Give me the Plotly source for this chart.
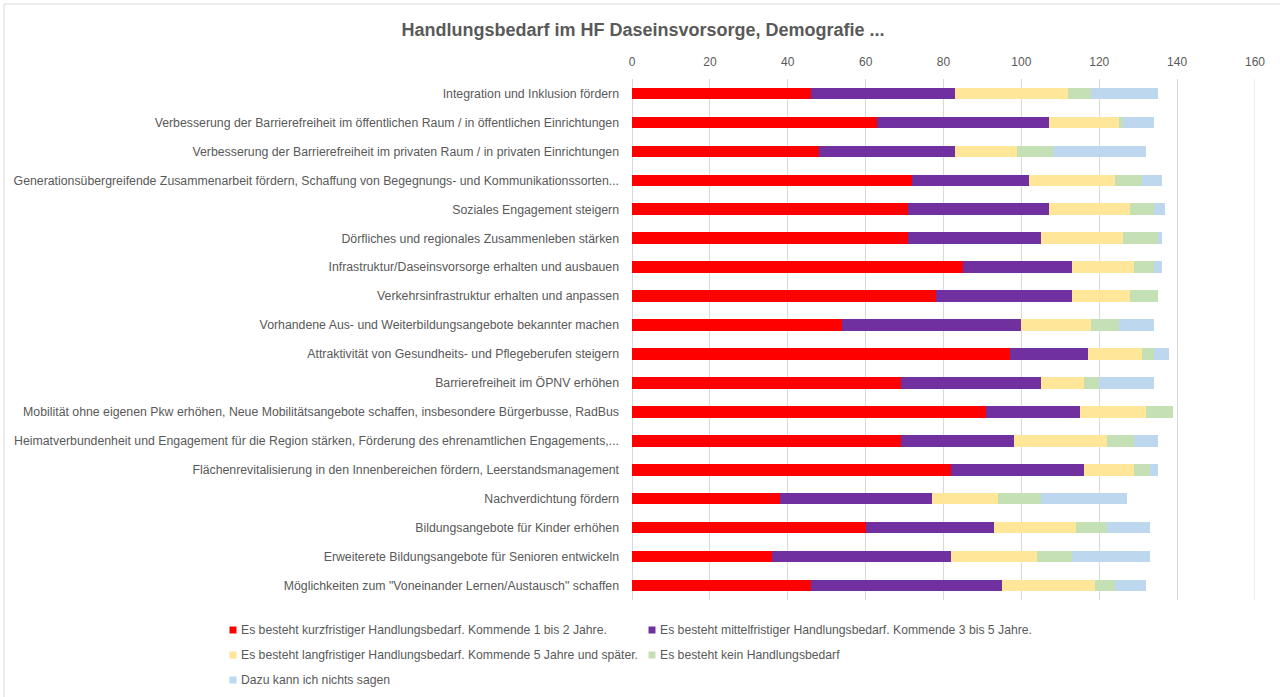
import plotly.graph_objects as go

# Handlungsfelder (top to bottom)
categories = [
    "Integration und Inklusion fördern",
    "Verbesserung der Barrierefreiheit im öffentlichen Raum / in öffentlichen Einrichtungen",
    "Verbesserung der Barrierefreiheit im privaten Raum / in privaten Einrichtungen",
    "Generationsübergreifende Zusammenarbeit fördern, Schaffung von Begegnungs- und Kommunikationssorten...",
    "Soziales Engagement steigern",
    "Dörfliches und regionales Zusammenleben stärken",
    "Infrastruktur/Daseinsvorsorge erhalten und ausbauen",
    "Verkehrsinfrastruktur erhalten und anpassen",
    "Vorhandene Aus- und Weiterbildungsangebote bekannter machen",
    "Attraktivität von Gesundheits- und Pflegeberufen steigern",
    "Barrierefreiheit im ÖPNV erhöhen",
    "Mobilität ohne eigenen Pkw erhöhen, Neue Mobilitätsangebote schaffen, insbesondere Bürgerbusse, RadBus",
    "Heimatverbundenheit und Engagement für die Region stärken, Förderung des ehrenamtlichen Engagements,...",
    "Flächenrevitalisierung in den Innenbereichen fördern, Leerstandsmanagement",
    "Nachverdichtung fördern",
    "Bildungsangebote für Kinder erhöhen",
    "Erweiterete Bildungsangebote für Senioren entwickeln",
    "Möglichkeiten zum \"Voneinander Lernen/Austausch\" schaffen",
]

series_names = [
    "Es besteht kurzfristiger Handlungsbedarf. Kommende 1 bis 2 Jahre.",
    "Es besteht mittelfristiger Handlungsbedarf. Kommende 3 bis 5 Jahre.",
    "Es besteht langfristiger Handlungsbedarf. Kommende 5 Jahre und später.",
    "Es besteht kein Handlungsbedarf",
    "Dazu kann ich nichts sagen",
]

short_term = [46, 63, 48, 72, 71, 71, 85, 78, 54, 97, 69, 91, 69, 82, 38, 60, 36, 46]
mid_term = [37, 44, 35, 30, 36, 34, 28, 35, 46, 20, 36, 24, 29, 34, 39, 33, 46, 49]
long_term = [29, 18, 16, 22, 21, 21, 16, 15, 18, 14, 11, 17, 24, 13, 17, 21, 22, 24]
no_need = [6, 1, 9, 7, 6, 9, 5, 7, 7, 3, 4, 7, 7, 4, 11, 8, 9, 5]
no_answer = [17, 8, 24, 5, 3, 1, 2, 0, 9, 4, 14, 0, 6, 2, 22, 11, 20, 8]

series_values = [short_term, mid_term, long_term, no_need, no_answer]
series_colors = ["#FF0000", "#7030A0", "#FFE699", "#C5E0B4", "#BDD7EE"]

x_ticks = [0, 20, 40, 60, 80, 100, 120, 140, 160]

FONT = "Liberation Sans"
GREY = "#595959"
GRID = "#D9D9D9"
W, H = 1280, 697
L, R, T, B = 632, 1255, 79, 600


def px_x(p):
    return (p - L) / (R - L)


def px_y(p):
    return (B - p) / (B - T)


fig = go.Figure()
for name, vals, col in zip(series_names, series_values, series_colors):
    fig.add_trace(go.Bar(
        y=categories, x=vals, name=name, orientation="h",
        marker=dict(color=col, line=dict(width=0)),
        showlegend=False,
        hovertemplate="%{y}<br>%{x}<extra>" + name + "</extra>",
    ))

# legend laid out in two columns below the plot
legend_slots = [(233, 630), (652, 630), (233, 655), (652, 655), (233, 680)]
shapes = []
annotations = []
for (lx, ly), name, col in zip(legend_slots, series_names, series_colors):
    shapes.append(dict(
        type="rect", xref="paper", yref="paper",
        x0=px_x(lx - 3.5), x1=px_x(lx + 3.5), y0=px_y(ly + 3.5), y1=px_y(ly - 3.5),
        fillcolor=col, line=dict(width=0),
    ))
    annotations.append(dict(
        xref="paper", yref="paper", x=px_x(lx + 6), y=px_y(ly),
        xanchor="left", yanchor="middle", showarrow=False, text=name,
        font=dict(family=FONT, size=12.2, color=GREY),
    ))

# gridline at the axis maximum
shapes.append(dict(
    type="line", xref="x", yref="paper", x0=160, x1=160, y0=0, y1=1,
    line=dict(color=GRID, width=1), layer="below",
))

# chart area frame
shapes.append(dict(
    type="rect", xref="paper", yref="paper",
    x0=px_x(4), x1=px_x(1283), y0=px_y(700), y1=px_y(4),
    line=dict(color=GRID, width=1), fillcolor="rgba(0,0,0,0)", layer="below",
))

fig.update_layout(
    width=W, height=H, autosize=False,
    margin=dict(l=L, r=W - R, t=T, b=H - B, pad=0, autoexpand=False),
    paper_bgcolor="white", plot_bgcolor="white",
    barmode="stack", bargap=0.6,
    title=dict(
        text="<b>Handlungsbedarf im HF Daseinsvorsorge, Demografie ...</b>",
        x=643 / W, xanchor="center", y=1 - 30 / H, yanchor="middle",
        font=dict(family=FONT, size=18, color=GREY),
    ),
    xaxis=dict(
        side="top", range=[0, 160], tickvals=x_ticks, automargin=False,
        showgrid=True, gridcolor=GRID, gridwidth=1,
        zeroline=True, zerolinecolor=GRID, zerolinewidth=1,
        showline=False, ticks="", ticklabelstandoff=10,
        tickfont=dict(family=FONT, size=12, color=GREY),
    ),
    yaxis=dict(
        categoryorder="array", categoryarray=categories, autorange="reversed",
        automargin=False,
        showgrid=False, zeroline=False, showline=False, ticks="",
        ticklabelstandoff=12,
        tickfont=dict(family=FONT, size=12.3, color=GREY),
    ),
    shapes=shapes, annotations=annotations,
)

fig.write_html("out.html")
